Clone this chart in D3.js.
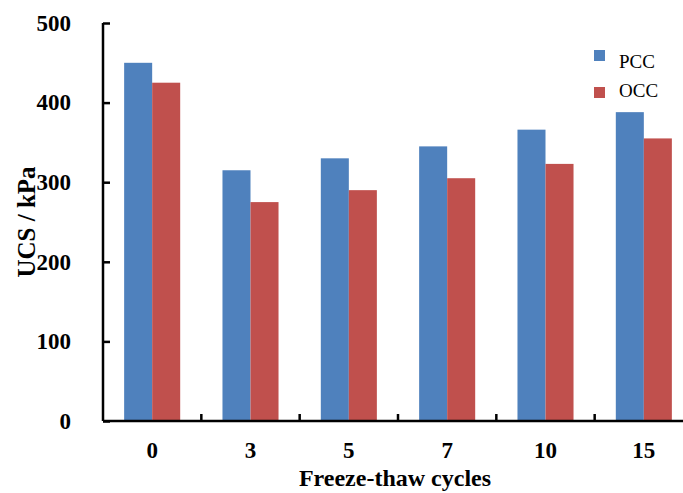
<!DOCTYPE html>
<html>
<head>
<meta charset="utf-8">
<script src="https://cdn.jsdelivr.net/npm/d3@7"></script>
<style>
  body { margin: 0; background: #fff; }
  text { font-family: "Liberation Serif", "Times New Roman", serif; }
</style>
</head>
<body>
<script>
var w = 683;
var h = 493;

// data
var cycles = ["0", "3", "5", "7", "10", "15"];
var series = ["PCC", "OCC"];
var pcc = [450, 315, 330, 345, 366, 388];
var occ = [425, 275, 290, 305, 323, 355];
var yTicks = [0, 100, 200, 300, 400, 500];
var colors = ["#4F81BD", "#C0504D"];

var plotLeft = 103, plotRight = 693, plotTop = 23, plotBottom = 421;

var svg = d3.select("body").append("svg")
  .attr("width", w)
  .attr("height", h);

var x0 = d3.scaleBand()
  .domain(cycles)
  .range([plotLeft, plotRight])
  .paddingInner(0.43)
  .paddingOuter(0.215);

var x1 = d3.scaleBand()
  .domain(series)
  .range([0, x0.bandwidth()]);

var y = d3.scaleLinear()
  .domain([0, 500])
  .range([plotBottom, plotTop]);

var rows = cycles.map(function(c, i) {
  return {cycle: c, values: [pcc[i], occ[i]]};
});

// bars
svg.append("g").selectAll("g")
  .data(rows)
  .enter().append("g")
  .attr("transform", function(d) { return "translate(" + x0(d.cycle) + ",0)"; })
  .selectAll("rect")
  .data(function(d) { return d.values.map(function(v, j) { return {s: series[j], v: v, j: j}; }); })
  .enter().append("rect")
  .attr("x", function(d) { return x1(d.s); })
  .attr("y", function(d) { return y(d.v); })
  .attr("width", x1.bandwidth())
  .attr("height", function(d) { return plotBottom - y(d.v); })
  .attr("fill", function(d) { return colors[d.j]; });

// y axis, ticks inside
var yAxis = d3.axisLeft(y).tickValues(yTicks).tickSize(-7).tickPadding(32);
var gy = svg.append("g")
  .attr("transform", "translate(" + plotLeft + ",0)")
  .call(yAxis);
gy.select(".domain").attr("stroke-width", 2.5).attr("d", "M0," + plotTop + "V" + plotBottom);
gy.selectAll(".tick line").attr("stroke-width", 2.5);
gy.selectAll(".tick text")
  .attr("font-size", 23)
  .attr("font-weight", "bold")
  .attr("font-family", "Liberation Serif, serif")
  .attr("fill", "#000");

// x axis: line plus tick marks between categories
var gx = svg.append("g").attr("transform", "translate(0," + plotBottom + ")");
gx.append("line")
  .attr("x1", plotLeft).attr("x2", plotRight)
  .attr("stroke", "#000").attr("stroke-width", 2.5);
var step = x0.step();
gx.selectAll(".sep")
  .data(cycles.slice(1).concat(["end"]))
  .enter().append("line")
  .attr("x1", function(d, i) { return plotLeft + step * (i + 1); })
  .attr("x2", function(d, i) { return plotLeft + step * (i + 1); })
  .attr("y1", 0).attr("y2", -7)
  .attr("stroke", "#000").attr("stroke-width", 2.5);
gx.selectAll(".lab")
  .data(cycles)
  .enter().append("text")
  .attr("x", function(d) { return x0(d) + x0.bandwidth() / 2; })
  .attr("y", 37)
  .attr("text-anchor", "middle")
  .attr("font-size", 23)
  .attr("font-weight", "bold")
  .text(function(d) { return d; });

// axis titles
svg.append("text")
  .attr("x", 395).attr("y", 486)
  .attr("text-anchor", "middle")
  .attr("font-size", 24)
  .attr("font-weight", "bold")
  .text("Freeze-thaw cycles");

svg.append("text")
  .attr("transform", "translate(35,222) rotate(-90)")
  .attr("text-anchor", "middle")
  .attr("font-size", 25)
  .attr("font-weight", "bold")
  .text("UCS  /  kPa");

// legend (labels sit a bit closer together than the swatches)
var lg = svg.append("g");
lg.selectAll("rect")
  .data(series)
  .enter().append("rect")
  .attr("x", 594)
  .attr("y", function(d, i) { return 50 + i * 37; })
  .attr("width", 11).attr("height", 11)
  .attr("fill", function(d, i) { return colors[i]; });
lg.selectAll("text")
  .data(series)
  .enter().append("text")
  .attr("x", 619)
  .attr("y", function(d, i) { return 68 + i * 29; })
  .attr("font-size", 19)
  .text(function(d) { return d; });
</script>
</body>
</html>
